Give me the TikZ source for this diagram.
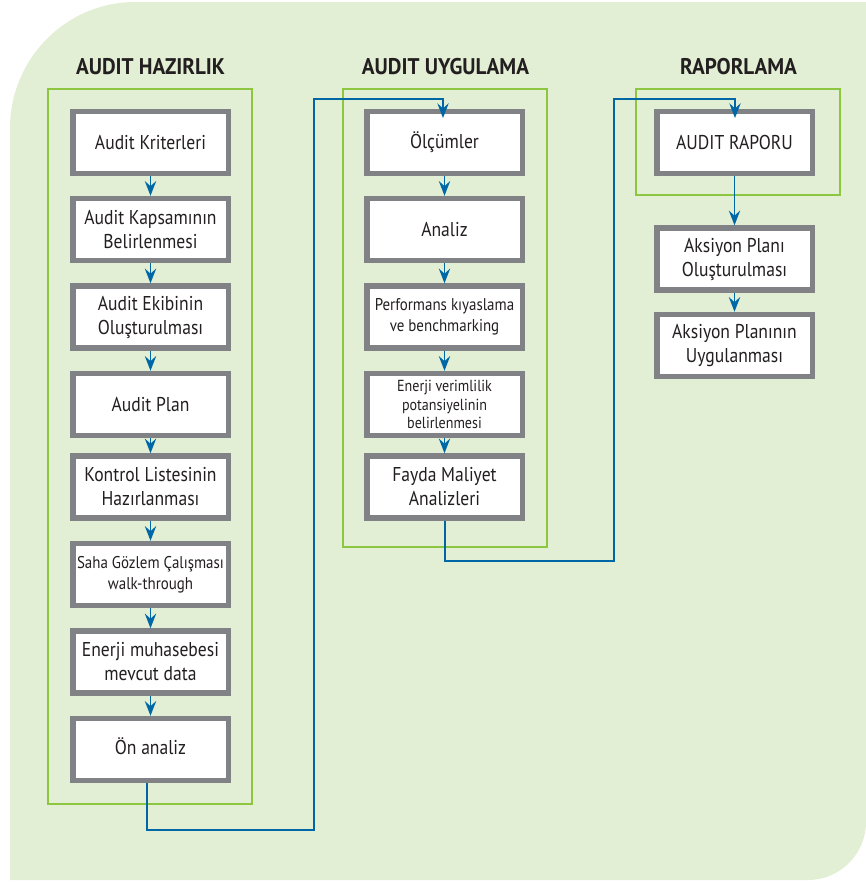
\documentclass[tikz,border=0pt]{standalone}
\usepackage{fontspec}
\setmainfont[FakeStretch=0.88]{PT Sans}
\newfontfamily\titlefam[FakeStretch=0.93]{PT Sans}
\usetikzlibrary{arrows.meta}
\definecolor{bgc}{RGB}{226,239,212}
\definecolor{frmc}{RGB}{141,198,63}
\definecolor{boxgray}{RGB}{128,130,133}
\definecolor{connc}{RGB}{0,103,166}
\definecolor{txtc}{RGB}{35,31,32}
\newcommand\fsbig{\fontsize{15}{18}\selectfont}
\newcommand\fsmed{\fontsize{12.75}{15.5}\selectfont}
\newcommand\fssmall{\fontsize{12}{14}\selectfont}
\newcommand\fstitle{\titlefam\fontsize{17}{20}\selectfont\bfseries}
\tikzset{
  stepbox/.style={draw=boxgray, line width=4.1pt, fill=white, minimum width=116.6pt,
    minimum height=46.5pt, inner sep=0pt, align=center, text=txtc, font=\fsbig},
  frm/.style={draw=frmc, line width=1.2pt},
  ttl/.style={anchor=base, text=txtc, font=\fstitle, inner sep=0pt},
  arr/.style={draw=connc, line width=1.2pt, -{Stealth[length=11pt,width=8.5pt,inset=3.8pt]}},
  lnk/.style={draw=connc, line width=1.2pt}
}
\begin{document}
\begin{tikzpicture}[x=0.75pt,y=-0.75pt]
\useasboundingbox (0,0) rectangle (866,883);
\fill[bgc] (10,880) -- (10,128) .. controls (10,59) and (66,2) .. (135,2) -- (866,2) -- (866,822) .. controls (866,854) and (840,880) .. (808,880) -- cycle;
% frames
\draw[frm] (48,89) rectangle (252,804);
\draw[frm] (343,89) rectangle (547,547);
\draw[frm] (636,89) rectangle (840,195);
% titles
\node[ttl] (t1) at (150.5,74) {AUDIT HAZIRLIK};
\node[ttl] (t2) at (445.5,74) {AUDIT UYGULAMA};
\node[ttl] (t3) at (738.5,74) {RAPORLAMA};
% left column
\node[stepbox] (a1) at (150.5,142.5) {Audit Kriterleri};
\node[stepbox] (a2) at (150.5,229.5) {Audit Kapsamının\\Belirlenmesi};
\node[stepbox] (a3) at (150.5,317) {Audit Ekibinin\\Oluşturulması};
\node[stepbox] (a4) at (150.5,404.5) {Audit Plan};
\node[stepbox] (a5) at (150.5,487) {Kontrol Listesinin\\Hazırlanması};
\node[stepbox, font=\fsmed] (a6) at (150.5,574.5) {Saha Gözlem Çalışması\\walk-through};
\node[stepbox] (a7) at (150.5,662) {Enerji muhasebesi\\mevcut data};
\node[stepbox] (a8) at (150.5,749.5) {\raisebox{5.6pt}{Ön analiz}};
% middle column
\node[stepbox] (m1) at (444.5,142.5) {Ölçümler};
\node[stepbox] (m2) at (444.5,229.5) {Analiz};
\node[stepbox, font=\fsmed] (m3) at (444.5,317) {Performans kıyaslama\\ve benchmarking};
\node[stepbox, font=\fssmall] (m4) at (444.5,404.5) {Enerji verimlilik\\potansiyelinin\\belirlenmesi};
\node[stepbox] (m5) at (444.5,487) {Fayda Maliyet\\Analizleri};
% right column
\node[stepbox] (r1) at (734.5,142.5) {AUDIT RAPORU};
\node[stepbox] (r2) at (734.5,259) {Aksiyon Planı\\Oluşturulması};
\node[stepbox] (r3) at (734.5,345.5) {Aksiyon Planının\\Uygulanması};
% arrows within columns
\foreach \p/\q in {a1/a2,a2/a3,a3/a4,a4/a5,a5/a6,a6/a7,a7/a8,m1/m2,m2/m3,m3/m4,m4/m5,r1/r2,r2/r3}
  \draw[arr] (\p) -- (\q);
% cross-column connectors
\coordinate (l1) at (147,830);
\coordinate (l2) at (314,830);
\coordinate (l3) at (314,98.7);
\coordinate (l4) at (443,98.7);
\coordinate (l5) at (443,118);
\draw[arr] (a8.south -| l1) -- (l1) -- (l2) -- (l3) -- (l4) -- (l5);
\coordinate (k1) at (445,561);
\coordinate (k2) at (614,561);
\coordinate (k3) at (614,98.7);
\coordinate (k4) at (735,98.7);
\coordinate (k5) at (735,118);
\draw[arr] (m5.south -| k1) -- (k1) -- (k2) -- (k3) -- (k4) -- (k5);
\end{tikzpicture}
\end{document}
